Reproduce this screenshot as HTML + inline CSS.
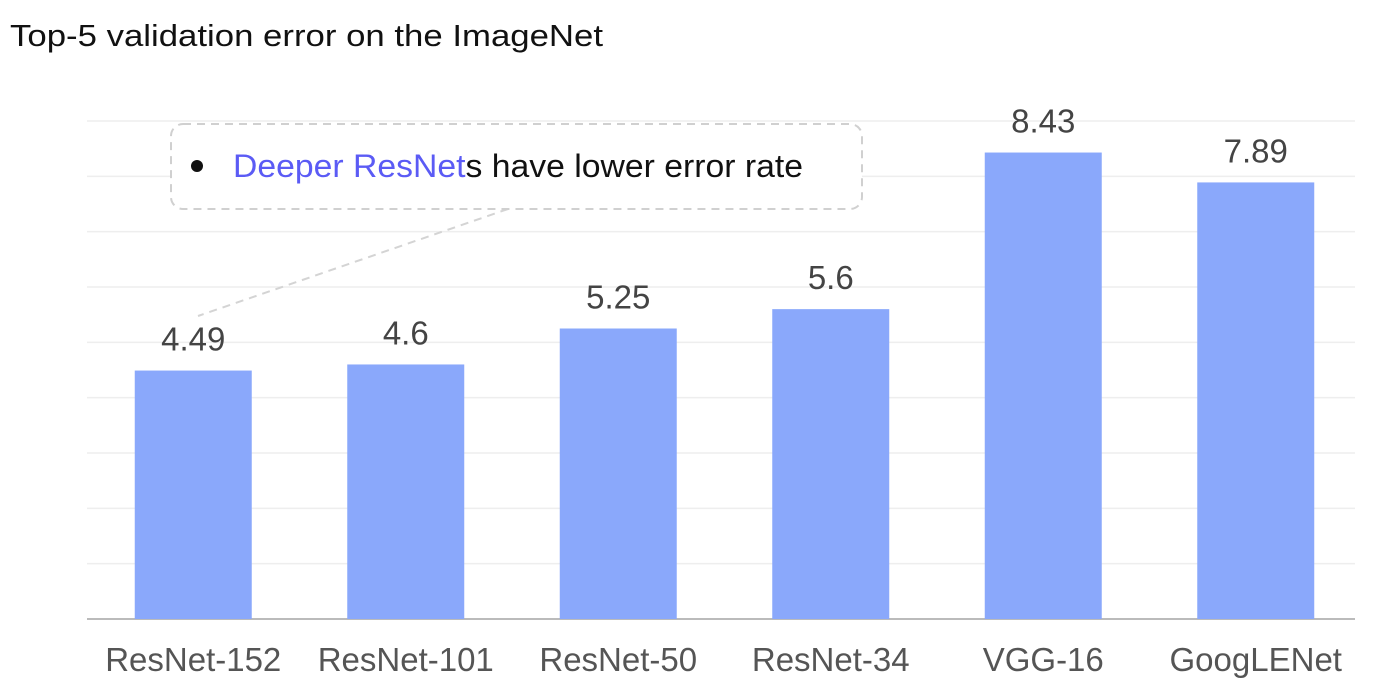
<!DOCTYPE html>
<html><head><meta charset="utf-8"><style>
body{margin:0;background:#fff;}
svg text{font-family:"Liberation Sans","NanumGothic",sans-serif;}
</style></head><body>
<svg width="1377" height="681" viewBox="0 0 1377 681">
<text x="10" y="46" font-size="31" fill="#111" textLength="593" lengthAdjust="spacingAndGlyphs">Top-5 validation error on the ImageNet</text>
<g id="grid"></g>
<g id="bars"></g>
<g id="labels"></g>
<g id="xlabels"></g>
<line x1="508" y1="209" x2="198" y2="316" stroke="#d4d4d4" stroke-width="2" stroke-dasharray="8,6"/>
<rect x="171" y="124" width="691" height="85" rx="12" fill="#fff" stroke="#d0d0d0" stroke-width="2" stroke-dasharray="8,6"/>
<circle cx="197" cy="166" r="6" fill="#111"/>
<text x="233" y="177" font-size="32" fill="#111" textLength="570" lengthAdjust="spacingAndGlyphs"><tspan fill="#5b5bf5">Deeper ResNet</tspan>s have lower error rate</text>
</svg>
<script>
const categories=["ResNet-152","ResNet-101","ResNet-50","ResNet-34","VGG-16","GoogLENet"];
const values=[4.49,4.6,5.25,5.6,8.43,7.89];
const yTicks=[0,1,2,3,4,5,6,7,8,9];
const NS="http://www.w3.org/2000/svg";
const x0=87,x1=1362,yBase=619,yTop=121,yMax=9;
const band=(x1-x0)/categories.length,bw=117;
const y=v=>yBase-(v/yMax)*(yBase-yTop);
const xc=i=>x0+band*(i+0.5);
function mk(t,a,p){const e=document.createElementNS(NS,t);for(const k in a)e.setAttribute(k,a[k]);p.appendChild(e);return e;}
const grid=document.getElementById('grid');
yTicks.forEach(t=>{
 const l=mk('line',{x1:x0,x2:1355,y1:y(t),y2:y(t),stroke:t===0?'#bbb':'#eee','stroke-width':t===0?2:1.5},grid);
 
 
});
const bars=document.getElementById('bars'),labs=document.getElementById('labels'),xl=document.getElementById('xlabels');
values.forEach((v,i)=>{
 const r=mk('rect',{x:xc(i)-bw/2,y:y(v),width:bw,height:yBase-y(v),fill:'#8aa8fb'},bars);
 
 
 const t=mk('text',{x:xc(i),y:y(v)-20,'text-anchor':'middle','font-size':33,fill:'#444'},labs);
 t.textContent=String(v);
 
 
 const c=mk('text',{x:xc(i),y:671,'text-anchor':'middle','font-size':33,fill:'#555'},xl);
 c.textContent=categories[i];
 
 
});
</script>
</body></html>
